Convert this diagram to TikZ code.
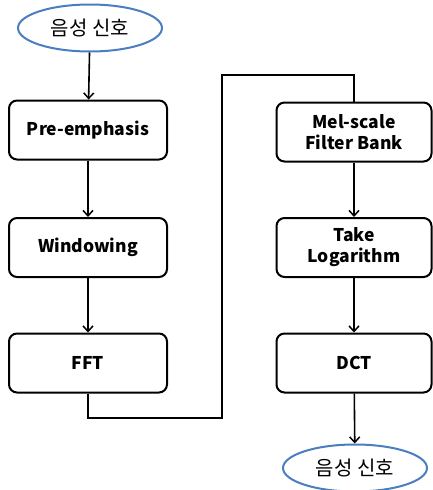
\documentclass[tikz,border=0pt]{standalone}
\usepackage{fontspec}
\setmainfont{Noto Sans CJK KR}
\newfontfamily\krfont{Noto Sans CJK KR}
\usetikzlibrary{arrows.meta,shapes.geometric}
\definecolor{ellblue}{RGB}{74,126,193}
\begin{document}
\begin{tikzpicture}[x=1pt,y=1pt,
  procbox/.style={draw=black, line width=2pt, rounded corners=8pt, fill=white,
    minimum width=158pt, minimum height=59pt, inner sep=0pt, align=center,
    font=\fontsize{17.5}{21}\selectfont\bfseries},
  signal/.style={ellipse, draw=ellblue, line width=2pt, fill=white,
    minimum width=144pt, minimum height=47pt, inner sep=0pt,
    font=\krfont\fontsize{20}{22}\selectfont},
  flow/.style={line width=1.6pt, -{Straight Barb[length=5.5pt,width=10pt,line width=1.5pt]}},
  link/.style={line width=1.6pt}]
\useasboundingbox (0,0) rectangle (432,-490);
\node[signal] (in) at (90,-28) {음성 신호};
\node[procbox] (pre) at (88,-130) {Pre-emphasis};
\node[procbox] (win) at (88,-247.5) {Windowing};
\node[procbox] (fft) at (88,-363) {FFT};
\node[procbox, minimum width=155pt] (mel) at (354,-132) {Mel-scale\\Filter Bank};
\node[procbox, minimum width=155pt] (log) at (354,-247.5) {Take\\Logarithm};
\node[procbox, minimum width=155pt] (dct) at (354,-363) {DCT};
\node[signal] (out) at (355,-468) {음성 신호};
\coordinate (c1) at (222,-418);
\coordinate (c2) at (222,-75);
\draw[flow] (in) -- (pre);
\draw[flow] (pre) -- (win);
\draw[flow] (win) -- (fft);
\draw[link] (fft.south) |- (c1) -- (c2) -| (mel.north);
\draw[flow] (mel) -- (log);
\draw[flow] (log) -- (dct);
\draw[flow] (dct) -- (out);
\end{tikzpicture}
\end{document}
